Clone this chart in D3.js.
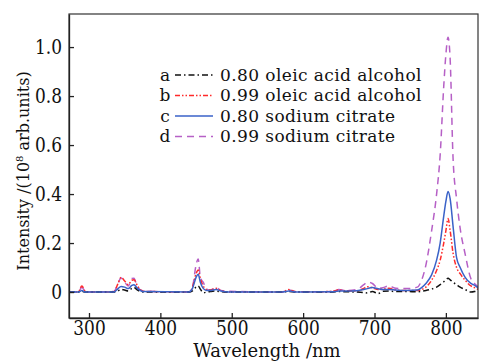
<!DOCTYPE html>
<meta charset="utf-8">
<style>
body { margin: 0; background: #fff; }
svg text { font-family: "DejaVu Serif", serif; fill: #111; }
.axis path, .axis line { stroke: #222; stroke-width: 1.3px; }
.line { fill: none; stroke-width: 1.5px; }
</style>
<body>
<script src="https://d3js.org/d3.v7.min.js"></script>
<script>

// wavelength grid (nm)
var wavelength = [272, 285, 290, 295, 300, 335, 340, 345, 350, 355, 360, 363, 368, 376,
  440, 445, 450, 453, 456, 460, 465, 470, 478, 485, 495, 570, 580, 590, 640, 650, 660,
  675, 685, 690, 697, 705, 712, 720, 730, 745, 760, 766, 772, 780, 787, 792, 797, 800,
  803, 806, 810, 815, 820, 827, 835, 840, 846];

// a: 0.80 oleic acid alcohol
var seriesA = [0, 0, 0.003, 0, 0, 0, 0.004, 0.011, 0.008, 0.004, 0.015, 0.019, 0.008, 0,
  0, 0.005, 0.02, 0.025, 0.012, -0.003, 0, 0.002, 0.004, 0.001, 0, 0, 0.002, 0, 0, 0.002, 0.001,
  0, -0.002, -0.004, 0.002, -0.006, 0.003, 0.004, 0.002, 0.002, 0.001, 0.003, 0.006, 0.012, 0.02, 0.03, 0.042, 0.05,
  0.056, 0.05, 0.04, 0.03, 0.02, 0.01, 0, 0.002, 0.012];

// b: 0.99 oleic acid alcohol
var seriesB = [0, 0, 0.025, 0.003, 0, 0, 0.03, 0.06, 0.045, 0.03, 0.048, 0.05, 0.025, 0.003,
  0, 0.02, 0.075, 0.09, 0.055, 0.025, 0.01, 0.008, 0.015, 0.006, 0, 0, 0.01, 0.001, 0.002, 0.008, 0.005,
  0.004, 0.015, 0.022, 0.018, 0.01, 0.012, 0.015, 0.008, 0.006, 0.006, 0.01, 0.02, 0.048, 0.088, 0.13, 0.2, 0.25,
  0.30, 0.25, 0.16, 0.1, 0.075, 0.048, 0.025, 0.018, 0.01];

// c: 0.80 sodium citrate
var seriesC = [0, 0, 0.006, 0, 0, 0, 0.012, 0.023, 0.02, 0.014, 0.027, 0.03, 0.015, 0.002,
  0, 0.015, 0.06, 0.073, 0.04, 0.015, 0.006, 0.006, 0.01, 0.004, 0, 0, 0.004, 0, 0.001, 0.004, 0.004,
  0.005, 0.01, 0.014, 0.018, 0.013, 0.01, 0.01, 0.008, 0.006, 0.008, 0.018, 0.035, 0.07, 0.13, 0.2, 0.31, 0.37,
  0.41, 0.38, 0.27, 0.14, 0.1, 0.06, 0.035, 0.028, 0.015];

// d: 0.99 sodium citrate
var seriesD = [0, 0, 0.02, 0.002, 0, 0.002, 0.03, 0.057, 0.04, 0.025, 0.055, 0.056, 0.02, 0.004,
  0, 0.02, 0.11, 0.135, 0.06, 0.04, 0.012, 0.008, 0.018, 0.006, 0.003, 0, 0.008, 0.001, 0.002, 0.01, 0.006,
  0.01, 0.03, 0.04, 0.035, 0.015, 0.018, 0.025, 0.015, 0.014, 0.02, 0.048, 0.11, 0.25, 0.4, 0.56, 0.84, 0.97,
  1.04, 0.95, 0.55, 0.38, 0.26, 0.155, 0.055, 0.035, 0.02];

var letters = ["a", "b", "c", "d"];
var labels = ["0.80 oleic acid alcohol", "0.99 oleic acid alcohol", "0.80 sodium citrate", "0.99 sodium citrate"];
var xTicks = [300, 400, 500, 600, 700, 800];
var yTicks = [0, 0.2, 0.4, 0.6, 0.8, 1.0];

var colors = ["#111111", "#ff2a2a", "#3a62c8", "#b660c6"];
var dashes = ["6,3,1.5,3", "5,2,1.5,2,1.5,2", null, "7,5"];

var margin = {top: 14, right: 1, bottom: 44, left: 69},
    width = 479 - margin.left - margin.right,
    height = 362 - margin.top - margin.bottom;

var x = d3.scaleLinear().domain([272, 845]).range([0, width]);
var y = d3.scaleLinear().domain([-0.106, 1.135]).range([height, 0]);

var svg = d3.select("body").append("svg")
    .attr("width", 479)
    .attr("height", 362)
  .append("g")
    .attr("transform", "translate(" + margin.left + "," + margin.top + ")");

svg.append("clipPath").attr("id", "clip")
  .append("rect").attr("width", width).attr("height", height);

var series = [seriesA, seriesB, seriesC, seriesD];

var line = d3.line()
    .x(function(d) { return x(d[0]); })
    .y(function(d) { return y(d[1]); })
    .curve(d3.curveMonotoneX);

// draw d first so the solid lines sit on top
[3, 1, 0, 2].forEach(function(i) {
  var pts = wavelength.map(function(w, j) { return [w, series[i][j]]; });
  svg.append("path")
      .datum(pts)
      .attr("class", "line")
      .attr("clip-path", "url(#clip)")
      .style("stroke", colors[i])
      .style("stroke-dasharray", dashes[i])
      .attr("d", line);
});

// frame
svg.append("rect")
    .attr("width", width).attr("height", height)
    .style("fill", "none").style("stroke", "#333").style("stroke-width", 1.2);

// the source image is a bit taller than wide, stretch tick text to match
var stretch = 1.15;

// axes
var gx = svg.append("g")
    .attr("class", "axis")
    .attr("transform", "translate(0," + height + ")")
    .call(d3.axisBottom(x).tickValues(xTicks).tickSizeInner(-5).tickSizeOuter(0).tickPadding(3));
gx.selectAll("text").style("font-size", "17px")
    .attr("transform", "scale(1," + stretch + ")");

var gy = svg.append("g")
    .attr("class", "axis")
    .call(d3.axisLeft(y).tickValues(yTicks).tickSizeInner(-5).tickSizeOuter(0).tickPadding(7)
      .tickFormat(function(d) { return d === 0 ? "0" : d3.format(".1f")(d); }));
gy.selectAll(".tick text").each(function() {
  var t = d3.select(this);
  t.attr("transform", "scale(1," + stretch + ")")
   .attr("dy", null)
   .attr("y", 6 / stretch)
   .style("font-size", "17px");
});

// legend
letters.forEach(function(l, i) {
  var ly = 75 + i * 20.5 - margin.top;
  svg.append("text")
    .attr("x", 165 - margin.left).attr("y", ly + 5.5)
    .attr("text-anchor", "middle").style("font-size", "17px").text(l);
  svg.append("line")
    .attr("x1", 175 - margin.left).attr("x2", 213 - margin.left)
    .attr("y1", ly).attr("y2", ly)
    .style("stroke", colors[i]).style("stroke-width", 1.5)
    .style("stroke-dasharray", dashes[i]);
  svg.append("text")
    .attr("x", 220 - margin.left).attr("y", ly + 5.5)
    .style("font-size", "17px").style("letter-spacing", "0.4px").text(labels[i]);
});

// axis titles
var yl = svg.append("text")
    .attr("transform", "translate(" + (29 - margin.left) + "," + (171 - margin.top) + ") rotate(-90)")
    .attr("text-anchor", "middle")
    .style("font-size", "16px");
yl.append("tspan").text("Intensity /(10");
yl.append("tspan").attr("dy", -6).style("font-size", "10px").text("8");
yl.append("tspan").attr("dy", 6).text(" arb.units)");

svg.append("text")
    .attr("x", 267 - margin.left).attr("y", 357 - margin.top)
    .attr("text-anchor", "middle")
    .style("font-size", "18px")
    .text("Wavelength /nm");

</script>
</body>
